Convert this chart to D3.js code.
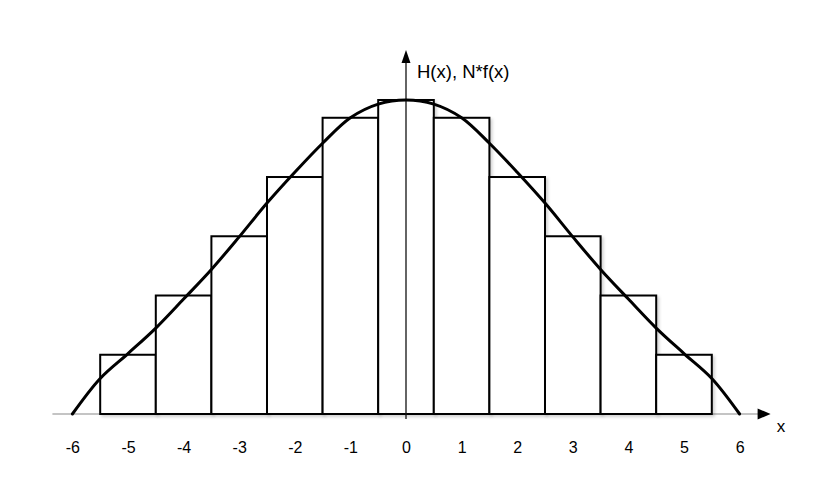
<!DOCTYPE html>
<html>
<head>
<meta charset="utf-8">
<script src="https://cdn.jsdelivr.net/npm/d3@7"></script>
<style>
  html, body { margin: 0; padding: 0; background: #fff; }
  svg { display: block; }
  text { font-family: "Liberation Sans", Arial, sans-serif; fill: #000; }
</style>
</head>
<body>
<svg id="chart" width="839" height="481"></svg>
<script>
// ---- data ----
const binCenters = [-5, -4, -3, -2, -1, 0, 1, 2, 3, 4, 5];
const binCounts  = [1, 2, 3, 4, 5, 5.3, 5, 4, 3, 2, 1];
const curveX = [-6, -5.5, -5, -4.5, -4, -3.5, -3, -2.5, -2, -1.5, -1, -0.5, 0,
                0.5, 1, 1.5, 2, 2.5, 3, 3.5, 4, 4.5, 5, 5.5, 6];
const curveY = [0, 0.6, 1.02, 1.45, 1.94, 2.44, 2.99, 3.56, 4.08, 4.57, 5.0, 5.23, 5.3,
                5.23, 5.0, 4.57, 4.08, 3.56, 2.99, 2.44, 1.94, 1.45, 1.02, 0.6, 0];
const tickValues = [-6, -5, -4, -3, -2, -1, 0, 1, 2, 3, 4, 5, 6];
const yLabel = "H(x), N*f(x)";
const xLabel = "x";

// ---- scales ----
const svg = d3.select("#chart");
const x = d3.scaleLinear().domain([-6, 6]).range([72.4, 739.6]);
const y = d3.scaleLinear().domain([0, 5.3]).range([414, 100]);

const defs = svg.append("defs");
const f = defs.append("filter").attr("id", "shadow")
  .attr("x", "-10%").attr("y", "-10%").attr("width", "130%").attr("height", "130%");
f.append("feDropShadow").attr("dx", 2).attr("dy", 2).attr("stdDeviation", 1.5)
  .attr("flood-color", "#000").attr("flood-opacity", 0.18);

// x axis line (gray) with arrow
svg.append("line")
  .attr("x1", x(-6) - 20).attr("x2", x(6) + 22)
  .attr("y1", y(0)).attr("y2", y(0))
  .attr("stroke", "#8a8a8a").attr("stroke-width", 1.2);
svg.append("path")
  .attr("d", `M${x(6) + 31},${y(0)} L${x(6) + 18},${y(0) - 5.5} L${x(6) + 18},${y(0) + 5.5} Z`)
  .attr("fill", "#000");

// bars
const bw = x(0.5) - x(-0.5);
svg.append("g").selectAll("rect")
  .data(binCenters.map((c, i) => ({c, v: binCounts[i]})))
  .join("rect")
  .attr("x", d => x(d.c - 0.5))
  .attr("y", d => y(d.v))
  .attr("width", bw)
  .attr("height", d => y(0) - y(d.v))
  .attr("fill", "#fff")
  .attr("stroke", "#000")
  .attr("stroke-width", 2)
  .attr("filter", "url(#shadow)");

// y axis with arrow
svg.append("line")
  .attr("x1", x(0)).attr("x2", x(0))
  .attr("y1", y(0) + 5).attr("y2", 60)
  .attr("stroke", "#111").attr("stroke-width", 1.3);
svg.append("path")
  .attr("d", `M${x(0)},50 L${x(0) - 4.5},63 L${x(0) + 4.5},63 Z`)
  .attr("fill", "#000");

// curve
const line = d3.line()
  .x((d, i) => x(curveX[i]))
  .y(d => y(d))
  .curve(d3.curveCatmullRom.alpha(0.5));
svg.append("path")
  .datum(curveY)
  .attr("d", line)
  .attr("fill", "none")
  .attr("stroke", "#000")
  .attr("stroke-width", 3)
  .attr("stroke-linecap", "round");

// tick labels
const axis = d3.axisBottom(x).tickValues(tickValues).tickSize(0).tickPadding(28)
  .tickFormat(d => String(d));
const gAxis = svg.append("g").attr("transform", `translate(0,${y(0)})`).call(axis);
gAxis.select(".domain").remove();
gAxis.selectAll("text")
  .style("font-family", '"Liberation Sans", Arial, sans-serif')
  .style("font-size", "16px")
  .attr("fill", "#000");

// axis labels
svg.append("text")
  .attr("x", 417).attr("y", 78)
  .style("font-size", "18.5px")
  .text(yLabel);
svg.append("text")
  .attr("x", 781).attr("y", 432)
  .attr("text-anchor", "middle")
  .style("font-size", "17px")
  .text(xLabel);
</script>
</body>
</html>
